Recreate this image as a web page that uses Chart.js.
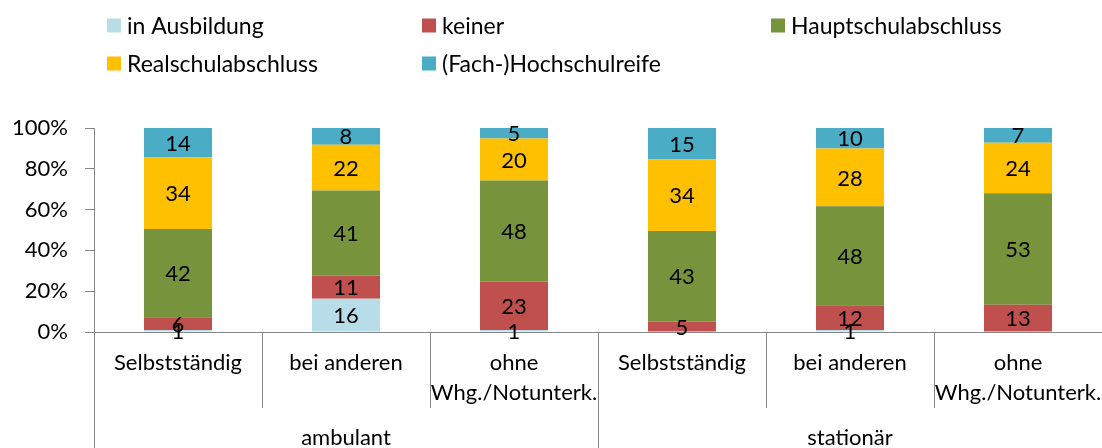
<!DOCTYPE html>
<html>
<head>
<meta charset="utf-8">
<script src="https://cdn.jsdelivr.net/npm/chart.js@4/dist/chart.umd.min.js"></script>
<style>
  html, body { margin: 0; padding: 0; background: #fff; }
  #wrap { width: 1102px; height: 448px; }
</style>
</head>
<body>
<div id="wrap"><canvas id="eduChart" width="1102" height="448"></canvas></div>
<script>
const categories = [
  ["Selbstständig"], ["bei anderen"], ["ohne", "Whg./Notunterk."],
  ["Selbstständig"], ["bei anderen"], ["ohne", "Whg./Notunterk."]
];
const groups = ["ambulant", "stationär"];

const inAusbildung = [1, 16, 1, 0, 1, 0];
const keiner = [6, 11, 23, 5, 12, 13];
const hauptschule = [42, 41, 48, 43, 48, 53];
const realschule = [34, 22, 20, 34, 28, 24];
const hochschulreife = [14, 8, 5, 15, 10, 7];

const yTicks = [0, 20, 40, 60, 80, 100];

const series = [
  { label: "in Ausbildung", values: inAusbildung, color: "#B7DEE8" },
  { label: "keiner", values: keiner, color: "#C0504D" },
  { label: "Hauptschulabschluss", values: hauptschule, color: "#77933C" },
  { label: "Realschulabschluss", values: realschule, color: "#FFC000" },
  { label: "(Fach-)Hochschulreife", values: hochschulreife, color: "#4BACC6" }
];

// 100% stacking: scale every column to its own total
const totals = categories.map((c, i) => series.reduce((s, d) => s + d.values[i], 0));

const FONT = "Lato, 'Liberation Sans', sans-serif";
const AXIS = "#868686";

const decorations = {
  id: "decorations",
  afterDatasetsDraw(chart) {
    const ctx = chart.ctx;
    ctx.save();
    ctx.fillStyle = "#000";
    ctx.font = "22px " + FONT;
    ctx.textAlign = "center";
    ctx.textBaseline = "middle";
    chart.data.datasets.forEach((ds, di) => {
      const meta = chart.getDatasetMeta(di);
      meta.data.forEach((bar, i) => {
        const v = ds.orig[i];
        if (!v) return;
        const p = bar.getProps(["x", "y", "base"], true);
        ctx.fillText(String(v), p.x, (p.y + p.base) / 2 + 1);
      });
    });
    ctx.restore();
  },
  afterDraw(chart) {
    const ctx = chart.ctx;
    const xs = chart.scales.x;
    const area = chart.chartArea;
    const n = categories.length;
    const step = (xs.right - xs.left) / n;
    ctx.save();

    // separators below the axis
    ctx.strokeStyle = AXIS;
    ctx.lineWidth = 1;
    for (let i = 0; i <= n; i++) {
      const x = Math.round(xs.left + i * step) + 0.5;
      const end = (i % 3 === 0) ? chart.height : area.bottom + 76;
      ctx.beginPath();
      ctx.moveTo(x, area.bottom);
      ctx.lineTo(x, end);
      ctx.stroke();
    }

    // category labels
    ctx.fillStyle = "#000";
    ctx.font = "22px " + FONT;
    ctx.textAlign = "center";
    ctx.textBaseline = "middle";
    categories.forEach((lines, i) => {
      const cx = xs.getPixelForValue(i);
      lines.forEach((t, k) => ctx.fillText(t, cx, area.bottom + 31 + k * 30));
    });

    // group labels
    groups.forEach((g, gi) => {
      const cx = xs.left + (gi * 3 + 1.5) * step;
      ctx.fillText(g, cx, area.bottom + 106);
    });

    // legend
    const cols = [107, 422, 771];
    const rows = [25.5, 63.5];
    ctx.font = "23px " + FONT;
    ctx.textAlign = "left";
    series.forEach((s, k) => {
      const x = cols[k % 3];
      const y = rows[Math.floor(k / 3)];
      ctx.fillStyle = s.color;
      ctx.fillRect(x, y - 7, 14, 14);
      ctx.fillStyle = "#000";
      ctx.fillText(s.label, x + 20, y + 1);
    });
    ctx.restore();
  }
};

new Chart(document.getElementById("eduChart").getContext("2d"), {
  type: "bar",
  data: {
    labels: categories,
    datasets: series.map(s => ({
      label: s.label,
      data: s.values.map((v, i) => v / totals[i] * 100),
      orig: s.values,
      backgroundColor: s.color,
      borderWidth: 0,
      barPercentage: 0.81,
      categoryPercentage: 0.5
    }))
  },
  options: {
    responsive: false,
    animation: false,
    maintainAspectRatio: false,
    layout: { padding: { top: 128, left: 0, right: 0, bottom: 0 } },
    plugins: { legend: { display: false }, tooltip: { enabled: false } },
    scales: {
      x: {
        stacked: true,
        grid: { display: false },
        border: { display: true, color: AXIS },
        ticks: { display: false },
        afterFit: s => { s.height = 116; }
      },
      y: {
        stacked: true,
        min: 0,
        max: 100,
        afterBuildTicks: s => { s.ticks = yTicks.map(v => ({ value: v })); },
        grid: { drawOnChartArea: false, drawTicks: true, tickLength: 9, color: AXIS },
        border: { display: true, color: AXIS },
        ticks: {
          padding: 17,
          color: "#000",
          font: { family: FONT, size: 22 },
          callback: v => v + "%"
        },
        afterFit: s => { s.width = 94; }
      }
    }
  },
  plugins: [decorations]
});
</script>
</body>
</html>
